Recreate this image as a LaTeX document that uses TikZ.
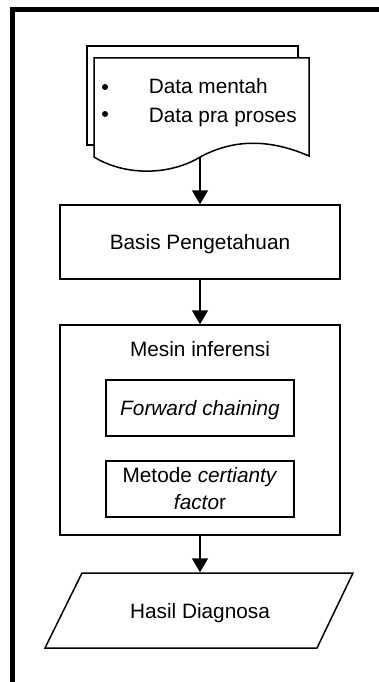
\documentclass[tikz,border=0pt]{standalone}
\usepackage{fontspec}
\setmainfont{Liberation Sans}
\usetikzlibrary{arrows.meta}
\begin{document}
\begin{tikzpicture}[x=1pt,y=-1pt,
  font=\fontsize{20.8}{27}\selectfont,
  line width=1.5pt,
  boxnode/.style={draw,line width=1.5pt,inner sep=0pt,text height=15pt,text depth=0pt},
  txt/.style={inner sep=0pt,anchor=base west},
  flow/.style={line width=1.5pt,-{Triangle[width=16pt,length=14pt]}}]
\useasboundingbox (0,0) rectangle (379,682);
% outer frame
\draw[line width=5pt] (12.5,682) -- (12.5,9.5) -- (379,9.5);
% document (stacked)
\draw (94,145) -- (87,145) -- (87,46) -- (298,46) -- (298,58);
\draw[fill=white] (94,58) -- (309,58) -- (309,156)
  .. controls (270,139) and (235,139) .. (202,156)
  .. controls (170,176) and (125,176) .. (94,157) -- cycle;
\coordinate (docb) at (200,157);
\fill (105,87) circle (3);
\fill (105,114) circle (3);
\node[txt] (d1) at (148,94) {Data mentah};
\node[txt] (d2) at (148,122) {Data pra proses};
% basis
\node[boxnode,minimum width=280pt,minimum height=74pt] (basis) at (200,242) {Basis Pengetahuan};
% mesin
\node[draw,line width=1.5pt,minimum width=280pt,minimum height=210pt,inner sep=0pt] (mesin) at (200,430) {};
\node[inner sep=0pt,text height=15pt,text depth=0pt] (mtitle) at (200,348.5) {Mesin inferensi};
\node[boxnode,minimum width=188pt,minimum height=56pt] (fc) at (200,408) {\itshape Forward chaining};
\node[draw,line width=1.5pt,minimum width=188pt,minimum height=56pt,inner sep=0pt,align=center] (cf) at (200,489) {Metode \textit{certianty}\\\textit{facto}r};
% output
\node[inner sep=0pt,minimum height=75pt,text height=15pt,text depth=0pt] (hasil) at (200,610.5) {Hasil Diagnosa};
\draw (82,573) -- (353,573) -- (317,648) -- (45,648) -- cycle;
% connectors
\draw[flow] (docb) -- (basis.north);
\draw[flow] (basis.south) -- (mesin.north);
\draw[flow] (mesin.south) -- (hasil.north);
\end{tikzpicture}
\end{document}
